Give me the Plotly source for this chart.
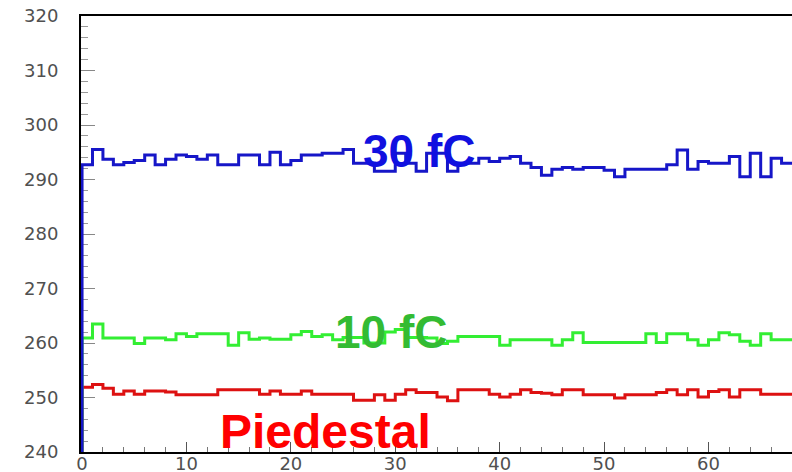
import plotly.graph_objects as go

# Histogram contents (one value per channel, channels 0..67)
channels = list(range(68))
baseline = 0  # histograms start from zero at the left edge

blue_30fC = [292.7, 295.5, 293.7, 292.7, 293.1, 293.5, 294.5, 292.7, 293.7, 294.5,
             294.2, 293.7, 294.5, 292.7, 292.7, 294.5, 294.5, 292.7, 295.0, 292.7,
             293.5, 294.5, 294.5, 294.8, 294.8, 295.5, 293.0, 293.0, 291.5, 291.5,
             294.8, 293.0, 291.5, 294.8, 294.8, 291.5, 293.0, 293.0, 293.9, 293.3,
             293.9, 294.2, 293.0, 292.2, 290.8, 291.9, 292.2, 291.9, 292.2, 292.2,
             291.7, 290.5, 291.9, 291.9, 291.9, 291.9, 292.7, 295.4, 291.9, 293.3,
             293.0, 293.0, 294.2, 290.5, 294.8, 290.5, 293.9, 293.0]

green_10fC = [260.9, 263.5, 260.9, 260.9, 260.9, 259.9, 260.9, 260.9, 260.6, 261.7,
              261.2, 261.7, 261.7, 261.7, 259.6, 261.9, 260.7, 260.9, 260.7, 260.7,
              261.5, 262.1, 261.2, 261.5, 260.6, 261.0, 261.0, 260.0, 260.0, 262.0,
              262.5, 261.0, 261.0, 260.9, 259.9, 260.3, 261.2, 261.2, 261.2, 261.2,
              259.6, 260.6, 260.6, 260.6, 260.6, 259.6, 260.6, 261.9, 260.1, 260.1,
              260.1, 260.1, 260.1, 260.1, 261.7, 260.1, 261.7, 261.7, 260.6, 259.6,
              260.6, 261.9, 261.5, 260.3, 259.6, 261.7, 260.6, 260.6]

red_pedestal = [251.9, 252.4, 251.7, 250.6, 251.2, 250.6, 251.2, 251.2, 251.0, 250.5,
                250.5, 250.5, 250.5, 251.4, 251.4, 251.4, 251.4, 250.6, 251.2, 250.6,
                250.6, 251.2, 250.6, 250.6, 250.6, 250.6, 249.5, 249.5, 250.5, 249.5,
                250.6, 251.4, 250.9, 250.9, 250.1, 249.4, 251.4, 251.4, 251.4, 250.6,
                250.1, 250.6, 251.4, 250.9, 250.8, 250.5, 251.4, 251.4, 250.5, 250.5,
                250.5, 249.9, 250.5, 250.5, 250.5, 250.9, 251.4, 250.5, 251.4, 250.1,
                251.1, 251.4, 250.1, 251.4, 251.4, 250.6, 250.6, 250.6]

labels = ["Piedestal", "10 fC", "30 fC"]
label_pos_x = [23.3, 29.6, 32.3]
label_pos_y = [243.8, 262.0, 295.2]

x_ticks = [0, 10, 20, 30, 40, 50, 60]
y_ticks = [240, 250, 260, 270, 280, 290, 300, 310, 320]

series = [
    (red_pedestal, "#dd1111", "#ff0000"),
    (green_10fC, "#33ee33", "#33bb33"),
    (blue_30fC, "#1616c8", "#1010e0"),
]
label_sizes = [48, 46, 46]

fig = go.Figure()
for (vals, lc, tc) in series:
    xs = [channels[0]] + channels + [channels[-1] + 1]
    ys = [baseline] + vals + [vals[-1]]
    fig.add_trace(go.Scatter(x=xs, y=ys, mode="lines", line=dict(color=lc, width=3, shape="hv"),
                             showlegend=False, hoverinfo="skip"))

for (vals, lc, tc), txt, ax, ay, fs in zip(series, labels, label_pos_x, label_pos_y, label_sizes):
    fig.add_annotation(x=ax, y=ay, text="<b>" + txt + "</b>", showarrow=False,
                       font=dict(family="Liberation Sans", size=fs, color=tc),
                       xanchor="center", yanchor="middle")

fig.update_layout(
    width=792, height=472,
    margin=dict(l=81, r=0, t=16, b=20, autoexpand=False),
    paper_bgcolor="white", plot_bgcolor="white",
    font=dict(family="DejaVu Sans", size=18, color="#505050"),
)
fig.update_xaxes(range=[-0.1, 68], tickvals=x_ticks, ticks="inside", ticklen=10, tickcolor="#555555",
                 showgrid=False, zeroline=False, showline=True, linecolor="black", linewidth=2,
                 mirror=True, layer="below traces", ticklabelstandoff=-6, automargin=False,
                 ticklabeloverflow="allow",
                 minor=dict(dtick=2, ticks="inside", ticklen=5, tickcolor="#777777"))
fig.update_yaxes(range=[240, 320], tickvals=y_ticks, ticks="inside", ticklen=14, tickcolor="#888888",
                 showgrid=False, zeroline=False, showline=True, linecolor="black", linewidth=2,
                 layer="below traces", ticklabelstandoff=17, automargin=False,
                 ticklabeloverflow="allow",
                 minor=dict(dtick=2, ticks="inside", ticklen=7, tickcolor="#999999"))

fig.write_html("out.html", config={"displayModeBar": False},
               post_script="document.body.style.margin='0';document.body.style.overflow='hidden';")
